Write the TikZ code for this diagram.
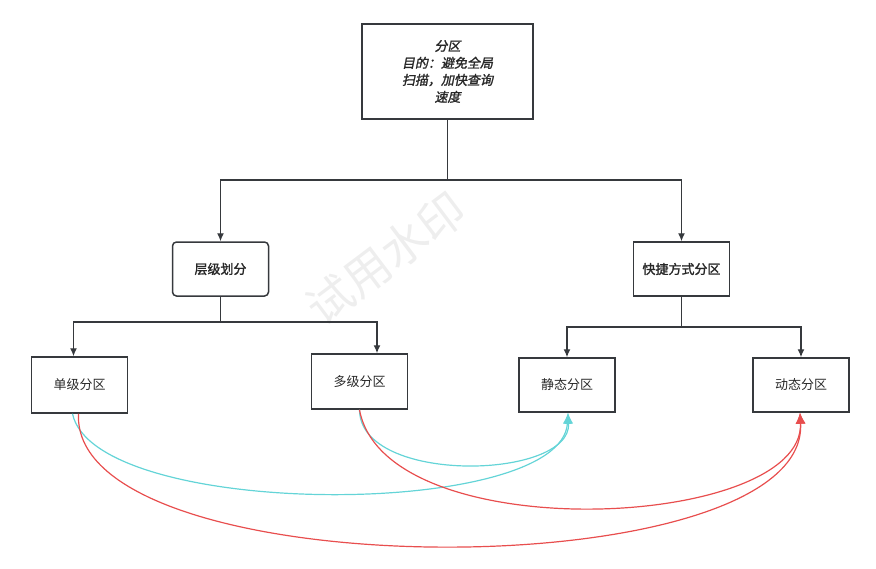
\documentclass[tikz,border=0pt]{standalone}
\usepackage{fontspec}
\usepackage{xcolor}
\usepackage{tikz}
\usetikzlibrary{arrows.meta, positioning}
\newfontfamily\cjk{Noto Sans CJK SC}
\newfontfamily\cjkbold[FakeBold=1.6]{Noto Sans CJK SC}
\newfontfamily\cjkbi[FakeBold=1.6,FakeSlant=0.2]{Noto Sans CJK SC}
\definecolor{boxline}{RGB}{54,57,61}
\definecolor{txtgray}{RGB}{40,40,40}
\definecolor{mycyan}{RGB}{100,212,215}
\definecolor{myred}{RGB}{232,78,78}
\definecolor{wmgray}{RGB}{238,238,238}
\tikzset{
  >={Latex[length=8pt,width=7pt]}, % filled arrow heads
  part/.style={draw=boxline,line width=1.5pt,rectangle,minimum width=96pt,minimum height=55pt,
    inner sep=2pt,text=txtgray,font=\cjk\fontsize{13}{15}\selectfont},
  part bold/.style={part,font=\cjkbold\fontsize{13}{15}\selectfont},
  root/.style={part,minimum width=171pt,minimum height=95pt,align=center,
    font=\cjkbi\fontsize{13}{17}\selectfont},
  tree/.style={->,line width=1.3pt,boxline},
  link cyan/.style={-{Latex[length=11pt,width=9pt]},line width=1.2pt,mycyan},
  link red/.style={-{Latex[length=11pt,width=10pt]},line width=1.2pt,myred}
}

\begin{document}
\begin{tikzpicture}[x=1pt,y=-1pt]
\useasboundingbox (0,0) rectangle (876,568);

% watermark
\node[text=wmgray,rotate=37,font=\cjk\fontsize{46}{46}\selectfont] (mark) at (386,258) {试用水印};

% Top node
\node[root] (top) at (447.5,71.5) {分区\\目的：避免全局\\扫描，加快查询\\速度};

% -------- Level 2 --------
\node[part bold,rounded corners=4pt,minimum height=54pt] (layer) at (220.5,269) {层级划分};
\node[part bold,minimum height=54pt] (shortcut) at (681.5,269) {快捷方式分区};

% -------- Level 3 --------
\node[part,minimum height=56pt] (single) at (79.5,385) {单级分区};
\node[part] (multi) at (359.5,381.5) {多级分区};
\node[part,minimum height=54pt] (static) at (567,385) {静态分区};
\node[part,minimum height=54pt] (dynamic) at (801,385) {动态分区};

% split points
\coordinate (split1) at (447.5,180);
\coordinate (split2) at (220.5,322);
\coordinate (split3) at (681.5,327);

% Tree connections
\draw[tree] (top.south) -- (split1) -| (layer.north);
\draw[tree] (split1) -| (shortcut.north);
\draw[tree] (layer.south) -- (split2) -| ([xshift=-6pt]single.north);
\draw[tree] (split2) -| ([xshift=17.5pt]multi.north);
\draw[tree] (shortcut.south) -- (split3) -| (static.north);
\draw[tree] (split3) -| (dynamic.north);

% Curved links
\draw[link cyan] ([xshift=-7pt]single.south) .. controls (95,520) and (562,520) .. ([xshift=1pt]static.south);
\draw[link cyan] (multi.south) .. controls (360,485) and (572,480) .. ([xshift=1pt]static.south);
\draw[link red] ([xshift=-1pt]single.south) .. controls (70,590) and (810,590) .. ([xshift=-1pt]dynamic.south);
\draw[link red] (multi.south) .. controls (385,550) and (805,530) .. ([xshift=-1pt]dynamic.south);

\end{tikzpicture}
\end{document}
